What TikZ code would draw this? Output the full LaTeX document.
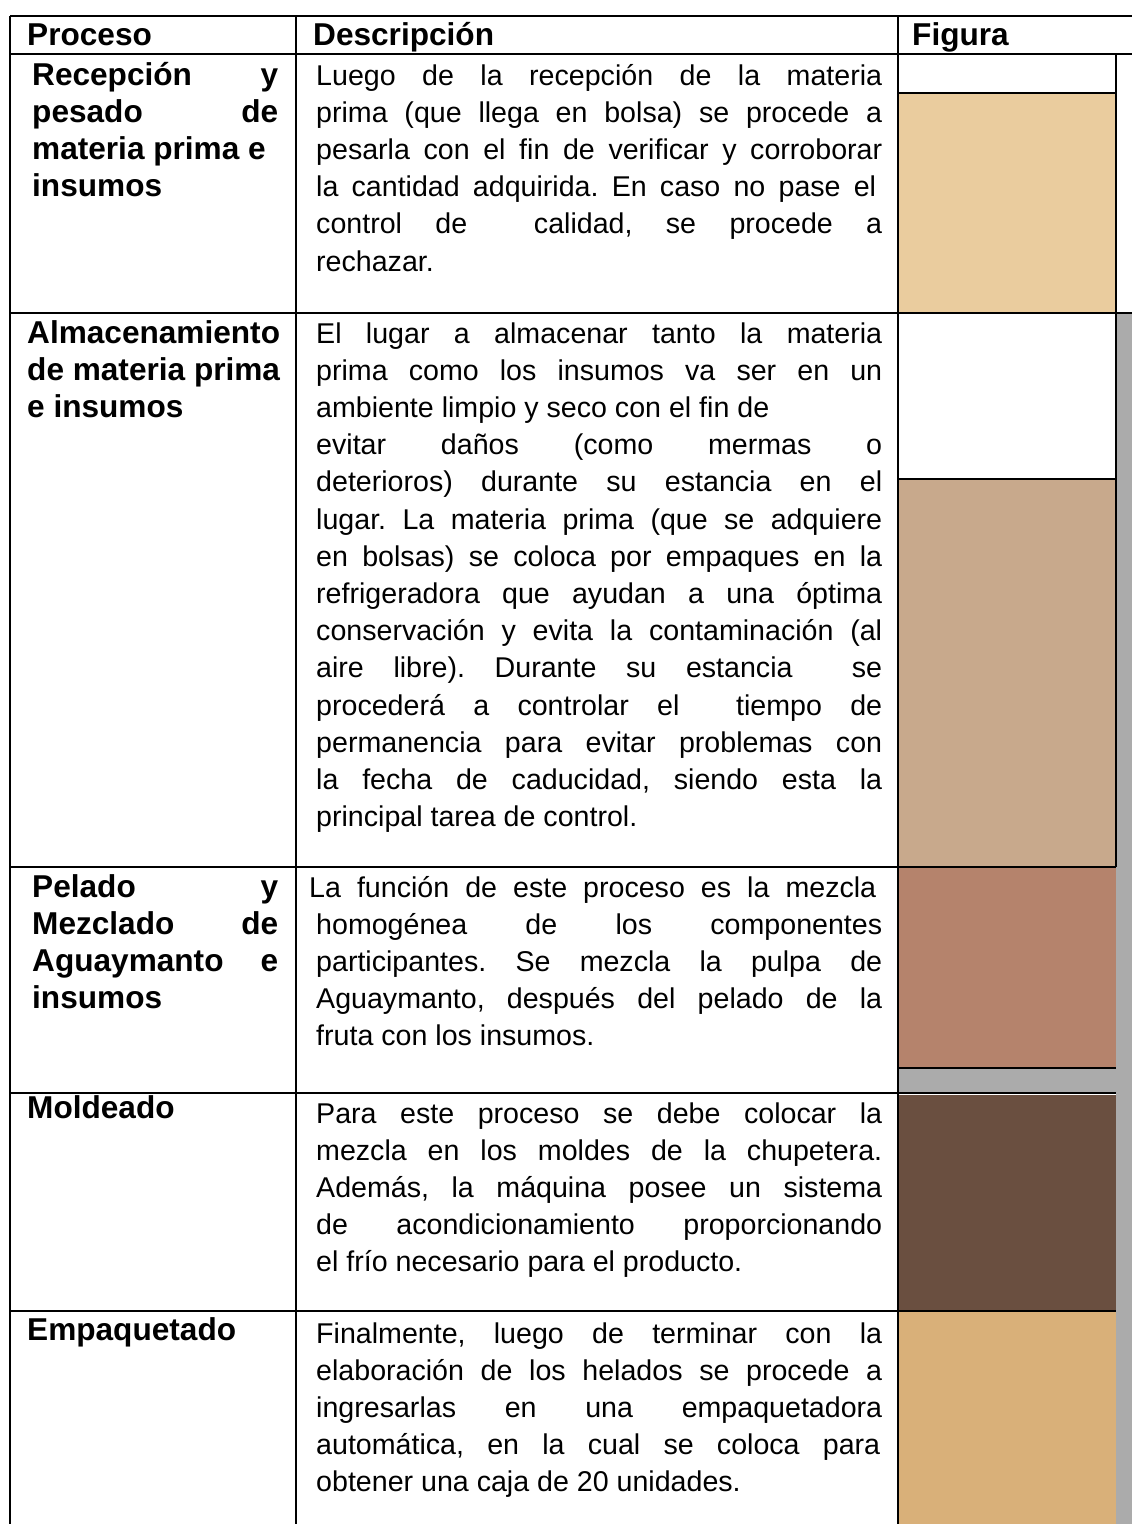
\documentclass[tikz,border=0pt]{standalone}
\usepackage{fontspec}
\setmainfont{Liberation Sans}
\frenchspacing
\definecolor{tanA}{HTML}{EACC9E}
\definecolor{tanB}{HTML}{C8A98C}
\definecolor{brownC}{HTML}{B5836C}
\definecolor{darkD}{HTML}{6A4F40}
\definecolor{tanE}{HTML}{D9B079}
\definecolor{greyS}{HTML}{ABABAB}
\newcommand{\J}[1]{\makebox[566pt][s]{#1}}
\newcommand{\JB}[1]{\makebox[246pt][s]{#1}}
\begin{document}
\begin{tikzpicture}[x=1pt,y=-1pt,
  rg/.style={anchor=base west,inner sep=0pt,font=\fontsize{28.6}{34}\selectfont\frenchspacing},
  bd/.style={anchor=base west,inner sep=0pt,font=\fontsize{31.6}{37}\selectfont\bfseries\frenchspacing},
  rule/.style={line width=2pt,black}]
\useasboundingbox[fill=white] (0,0) rectangle (1132,1524);
% figure column fills
\fill[greyS] (1116,313) rectangle (1132,1524);
\fill[greyS] (898,1068) rectangle (1116,1093);
\fill[tanA] (898,93) rectangle (1116,313);
\fill[tanB] (898,479) rectangle (1116,867);
\fill[brownC] (898,867) rectangle (1116,1068);
\fill[darkD] (898,1095) rectangle (1116,1311);
\fill[tanE] (898,1311) rectangle (1116,1524);
% grid
\draw[rule] (10,16) -- (1132,16);
\draw[rule] (10,54) -- (1132,54);
\draw[rule] (10,313) -- (1132,313);
\draw[rule] (10,867) -- (1116,867);
\draw[rule] (10,1093) -- (1116,1093);
\draw[rule] (10,1311) -- (1116,1311);
\draw[rule] (898,93) -- (1116,93);
\draw[rule] (898,479) -- (1116,479);
\draw[rule] (898,1068) -- (1116,1068);
\draw[white,line width=1pt] (898,1094.5) -- (1116,1094.5);
\draw[rule] (10,16) -- (10,1524);
\draw[rule] (296,16) -- (296,1524);
\draw[rule] (898,16) -- (898,1524);
\draw[rule] (1116,54) -- (1116,867);
% header
\node[bd] (h1) at (27,45) {Proceso};
\node[bd] (h2) at (313,45) {Descripción};
\node[bd] (h3) at (912,45) {Figura};
% row 1
\node[bd] (p1a) at (32,85) {\JB{Recepción\hfill y}};
\node[bd] (p1b) at (32,122.2) {\JB{pesado\hfill de}};
\node[bd] (p1c) at (32,159.4) {materia prima e};
\node[bd] (p1d) at (32,196.6) {insumos};
\node[rg] (d1a) at (316,85) {\J{Luego de la recepción de la materia}};
\node[rg] (d1b) at (316,122.2) {\J{prima (que llega en bolsa) se procede a}};
\node[rg] (d1c) at (316,159.4) {\J{pesarla con el fin de verificar y corroborar}};
\node[rg] (d1d) at (316,196.6) {\makebox[560pt][s]{la cantidad adquirida. En caso no pase el}};
\node[rg] (d1e) at (316,233.8) {\J{control de \ calidad, se procede a}};
\node[rg] (d1f) at (316,271) {rechazar.};
% row 2
\node[bd] (p2a) at (27,343) {Almacenamiento};
\node[bd] (p2b) at (27,380.2) {de materia prima};
\node[bd] (p2c) at (27,417.4) {e insumos};
\node[rg] (d2a) at (316,343) {\J{El lugar a almacenar tanto la materia}};
\node[rg] (d2b) at (316,380.2) {\J{prima como los insumos va ser en un}};
\node[rg] (d2c) at (316,417.4) {ambiente limpio y seco con el fin de};
\node[rg] (d2d) at (316,454.6) {\J{evitar daños (como mermas o}};
\node[rg] (d2e) at (316,491.8) {\J{deterioros) durante su estancia en el}};
\node[rg] (d2f) at (316,529) {\J{lugar. La materia prima (que se adquiere}};
\node[rg] (d2g) at (316,566.2) {\J{en bolsas) se coloca por empaques en la}};
\node[rg] (d2h) at (316,603.4) {\J{refrigeradora que ayudan a una óptima}};
\node[rg] (d2i) at (316,640.6) {\J{conservación y evita la contaminación (al}};
\node[rg] (d2j) at (316,677.8) {\J{aire libre). Durante su estancia \ se}};
\node[rg] (d2k) at (316,715) {\J{procederá a controlar el \ tiempo de}};
\node[rg] (d2l) at (316,752.2) {\J{permanencia para evitar problemas con}};
\node[rg] (d2m) at (316,789.4) {\J{la fecha de caducidad, siendo esta la}};
\node[rg] (d2n) at (316,826.6) {principal tarea de control.};
% row 3
\node[bd] (p3a) at (32,897) {\JB{Pelado\hfill y}};
\node[bd] (p3b) at (32,934.2) {\JB{Mezclado\hfill de}};
\node[bd] (p3c) at (32,971.4) {\JB{Aguaymanto\hfill e}};
\node[bd] (p3d) at (32,1008.6) {insumos};
\node[rg] (d3a) at (309,897) {\makebox[567pt][s]{La función de este proceso es la mezcla}};
\node[rg] (d3b) at (316,934.2) {\J{homogénea de los componentes}};
\node[rg] (d3c) at (316,971.4) {\J{participantes. Se mezcla la pulpa de}};
\node[rg] (d3d) at (316,1008.6) {\J{Aguaymanto, después del pelado de la}};
\node[rg] (d3e) at (316,1045.8) {fruta con los insumos.};
% row 4
\node[bd] (p4a) at (27,1118) {Moldeado};
\node[rg] (d4a) at (316,1123) {\J{Para este proceso se debe colocar la}};
\node[rg] (d4b) at (316,1160.2) {\J{mezcla en los moldes de la chupetera.}};
\node[rg] (d4c) at (316,1197.4) {\J{Además, la máquina posee un sistema}};
\node[rg] (d4d) at (316,1234.6) {\J{de acondicionamiento proporcionando}};
\node[rg] (d4e) at (316,1271.8) {el frío necesario para el producto.};
% row 5
\node[bd] (p5a) at (27,1340) {Empaquetado};
\node[rg] (d5a) at (316,1343) {\J{Finalmente, luego de terminar con la}};
\node[rg] (d5b) at (316,1380.2) {\J{elaboración de los helados se procede a}};
\node[rg] (d5c) at (316,1417.4) {\J{ingresarlas en una empaquetadora}};
\node[rg] (d5d) at (316,1454.6) {\makebox[564pt][s]{automática, en la cual se coloca para}};
\node[rg] (d5e) at (316,1491.8) {obtener una caja de 20 unidades.};
\end{tikzpicture}
\end{document}
